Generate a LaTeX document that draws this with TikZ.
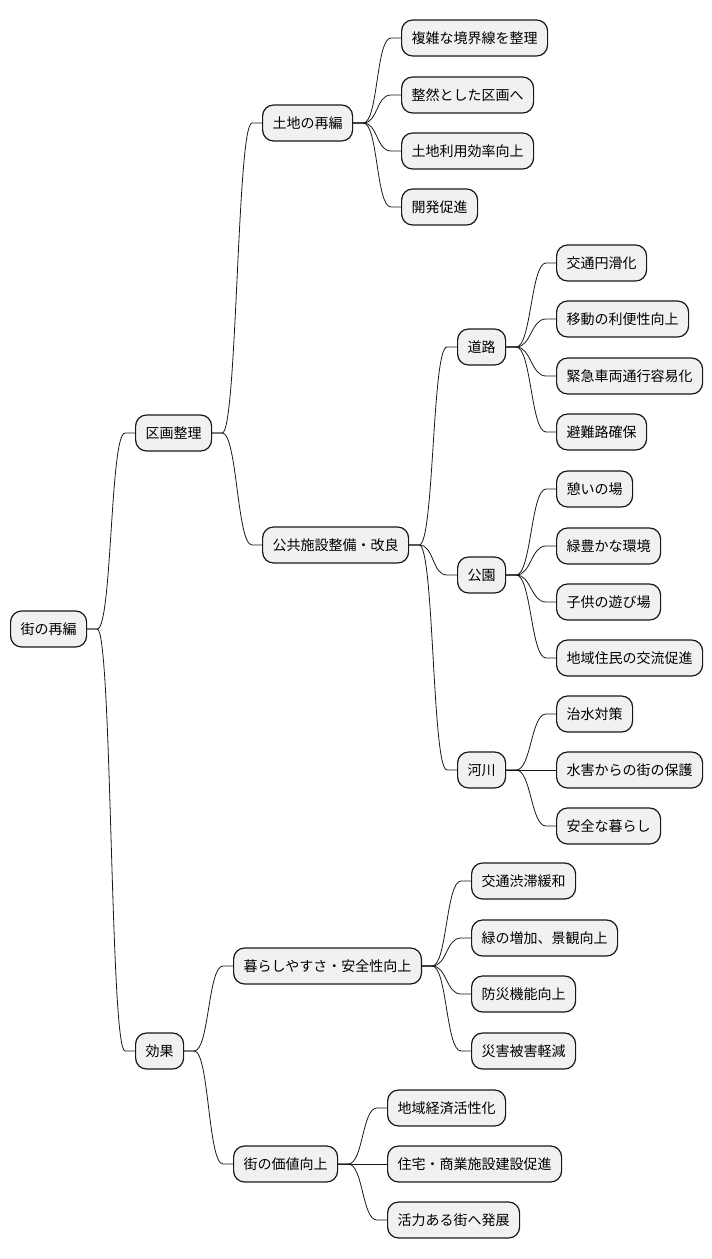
\documentclass[tikz,border=0pt]{standalone}
\usepackage{fontspec}
\newfontfamily\jpfont{Noto Sans CJK JP}
\definecolor{boxfill}{HTML}{F1F1F1}
\definecolor{boxline}{HTML}{181818}
\tikzset{
  mmnode/.style={draw=boxline, fill=boxfill, line width=1.2pt, rounded corners=11pt,
    anchor=west, inner xsep=10pt, inner ysep=0pt, minimum height=36pt,
    text height=12pt, text depth=2pt, font=\jpfont\fontsize{14}{16}\selectfont, text=black},
  conn/.style={draw=boxline, line width=0.8pt}
}
\newcommand{\mmconn}[2]{\draw[conn] (#1.east) -- ([xshift=10pt]#1.east) .. controls ([xshift=25pt]#1.east) and ([xshift=-25pt]#2.west) .. ([xshift=-10pt]#2.west) -- (#2.west);}
\begin{document}
\begin{tikzpicture}[x=1pt,y=-1pt]
\useasboundingbox (0,0) rectangle (712,1259);
\node[mmnode] (root) at (10,629) {街の再編};
\node[mmnode] (kukaku) at (135,433) {区画整理};
\node[mmnode] (tochi) at (262,123) {土地の再編};
\node[mmnode] (t1) at (401,38) {複雑な境界線を整理};
\node[mmnode] (t2) at (401,95) {整然とした区画へ};
\node[mmnode] (t3) at (401,151) {土地利用効率向上};
\node[mmnode] (t4) at (401,207) {開発促進};
\node[mmnode] (kokyo) at (262,545) {公共施設整備・改良};
\node[mmnode] (doro) at (457,347) {道路};
\node[mmnode] (d1) at (556,263) {交通円滑化};
\node[mmnode] (d2) at (556,319) {移動の利便性向上};
\node[mmnode] (d3) at (556,376) {緊急車両通行容易化};
\node[mmnode] (d4) at (556,432) {避難路確保};
\node[mmnode] (koen) at (457,575) {公園};
\node[mmnode] (k1) at (556,489) {憩いの場};
\node[mmnode] (k2) at (556,546) {緑豊かな環境};
\node[mmnode] (k3) at (556,602) {子供の遊び場};
\node[mmnode] (k4) at (556,658) {地域住民の交流促進};
\node[mmnode] (kasen) at (457,770) {河川};
\node[mmnode] (r1) at (556,714) {治水対策};
\node[mmnode] (r2) at (556,770) {水害からの街の保護};
\node[mmnode] (r3) at (556,826) {安全な暮らし};
\node[mmnode] (koka) at (135,1051) {効果};
\node[mmnode] (kurashi) at (233,966) {暮らしやすさ・安全性向上};
\node[mmnode] (e1) at (471,881) {交通渋滞緩和};
\node[mmnode] (e2) at (471,938) {緑の増加、景観向上};
\node[mmnode] (e3) at (471,994) {防災機能向上};
\node[mmnode] (e4) at (471,1051) {災害被害軽減};
\node[mmnode] (kachi) at (233,1164) {街の価値向上};
\node[mmnode] (v1) at (387,1108) {地域経済活性化};
\node[mmnode] (v2) at (387,1164) {住宅・商業施設建設促進};
\node[mmnode] (v3) at (387,1220) {活力ある街へ発展};
\mmconn{root}{kukaku}
\mmconn{root}{koka}
\mmconn{kukaku}{tochi}
\mmconn{kukaku}{kokyo}
\mmconn{tochi}{t1}
\mmconn{tochi}{t2}
\mmconn{tochi}{t3}
\mmconn{tochi}{t4}
\mmconn{kokyo}{doro}
\mmconn{kokyo}{koen}
\mmconn{kokyo}{kasen}
\mmconn{doro}{d1}
\mmconn{doro}{d2}
\mmconn{doro}{d3}
\mmconn{doro}{d4}
\mmconn{koen}{k1}
\mmconn{koen}{k2}
\mmconn{koen}{k3}
\mmconn{koen}{k4}
\mmconn{kasen}{r1}
\mmconn{kasen}{r2}
\mmconn{kasen}{r3}
\mmconn{koka}{kurashi}
\mmconn{koka}{kachi}
\mmconn{kurashi}{e1}
\mmconn{kurashi}{e2}
\mmconn{kurashi}{e3}
\mmconn{kurashi}{e4}
\mmconn{kachi}{v1}
\mmconn{kachi}{v2}
\mmconn{kachi}{v3}
\end{tikzpicture}
\end{document}
